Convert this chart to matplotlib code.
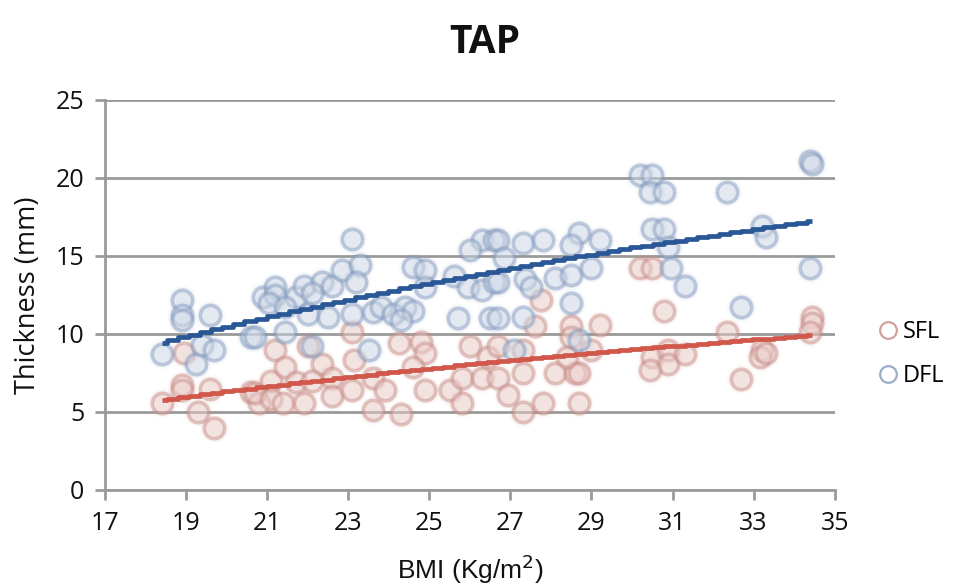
import numpy as np
import matplotlib
matplotlib.use("Agg")
import matplotlib.pyplot as plt
from matplotlib.lines import Line2D

# ---- data -------------------------------------------------------------
dfl_bmi = [18.4, 18.9, 18.9, 18.9, 19.24, 19.4, 19.6, 19.7, 20.6, 20.9,
           23.1, 21.2, 21.2, 21.7, 21.9, 22.35, 22.6, 22.85, 23.3, 23.2,
           21.05, 21.45, 22.0, 22.5, 23.1, 23.6, 20.7, 21.45, 22.1, 23.5,
           22.1, 26.3, 26.0, 26.6, 24.6, 24.9, 24.9, 25.6, 25.95, 26.3,
           26.6, 23.8, 24.1, 24.4, 24.6, 24.3, 25.7, 26.5, 26.7, 27.3,
           27.8, 28.7, 28.5, 29.2, 26.85, 26.7, 27.35, 27.5, 28.1, 28.5,
           29.0, 28.5, 26.7, 27.3, 28.7, 27.1, 30.2, 30.5, 30.45, 30.8,
           32.35, 30.5, 30.8, 30.9, 30.95, 31.3, 34.4, 34.45, 33.2, 33.3,
           34.4, 32.7]
dfl_thick = [8.7, 12.2, 11.2, 10.9, 8.1, 9.3, 11.2, 9.0, 9.8, 12.4,
             16.1, 13.0, 12.5, 12.4, 13.1, 13.3, 13.1, 14.1, 14.4, 13.3,
             12.0, 11.7, 11.3, 11.1, 11.3, 11.4, 9.8, 10.1, 9.2, 9.0,
             12.6, 16.0, 15.4, 16.0, 14.3, 14.1, 13.0, 13.7, 13.0, 12.8,
             13.3, 11.7, 11.3, 11.7, 11.5, 10.9, 11.0, 11.0, 16.0, 15.8,
             16.0, 16.5, 15.7, 16.0, 14.9, 13.3, 13.5, 13.0, 13.6, 13.8,
             14.2, 12.0, 11.0, 11.1, 9.6, 9.0, 20.2, 20.2, 19.1, 19.1,
             19.1, 16.7, 16.7, 15.6, 14.2, 13.1, 21.1, 20.9, 16.9, 16.2,
             14.2, 11.7]

sfl_bmi = [18.4, 18.9, 18.9, 19.6, 19.3, 19.7, 18.95, 20.6, 20.8, 20.7,
           21.1, 21.2, 21.45, 21.1, 21.4, 21.9, 21.7, 22.0, 22.35, 22.6,
           22.6, 23.1, 23.15, 23.1, 23.6, 23.6, 22.1, 23.9, 24.3, 24.25,
           24.8, 24.9, 24.6, 24.9, 25.5, 25.8, 25.8, 26.0, 26.3, 26.45,
           26.7, 26.7, 27.3, 27.6, 27.3, 26.95, 27.3, 27.8, 28.1, 28.5,
           28.5, 28.6, 28.4, 29.0, 29.2, 28.7, 27.75, 28.7, 30.2, 30.5,
           30.8, 30.5, 30.9, 30.9, 31.3, 30.45, 32.35, 33.2, 33.15, 33.3,
           32.7, 34.45, 34.45, 34.4]
sfl_thick = [5.6, 6.7, 6.4, 6.5, 5.0, 4.0, 8.8, 6.3, 5.6, 6.2,
             7.0, 9.0, 7.9, 5.8, 5.6, 5.6, 6.9, 9.2, 8.1, 7.2,
             6.0, 10.1, 8.3, 6.4, 7.2, 5.1, 7.0, 6.4, 4.9, 9.4,
             9.5, 8.8, 7.9, 6.4, 6.4, 7.2, 5.6, 9.2, 7.2, 8.5,
             9.2, 7.2, 9.0, 10.5, 7.5, 6.1, 5.0, 5.6, 7.5, 10.5,
             9.8, 7.5, 8.5, 9.0, 10.6, 5.6, 12.2, 7.5, 14.2, 14.2,
             11.5, 8.5, 9.0, 8.1, 8.7, 7.7, 10.1, 9.0, 8.5, 8.8,
             7.1, 11.1, 10.7, 10.1]

series_names = ["SFL", "DFL"]
x_ticks = list(range(17, 36, 2))
y_ticks = list(range(0, 26, 5))

# ---- style ------------------------------------------------------------
RED_EDGE, RED_FILL, RED_LINE = "#c78a84", "#efd6d3", "#d0574a"
BLUE_EDGE, BLUE_FILL, BLUE_LINE = "#8098bd", "#d7dfeb", "#2a5796"
GRID = "#9a9a9a"

fig = plt.figure(figsize=(9.69, 5.88), dpi=100)
ax = fig.add_axes([0.1084, 0.1667, 0.7530, 0.6633])


def draw_points(x, y, edge, fill):
    # soft halo rings under each marker, then the ringed marker itself
    ax.scatter(x, y, s=430, color=edge, alpha=0.06, linewidths=0, zorder=3)
    ax.scatter(x, y, s=320, color=edge, alpha=0.08, linewidths=0, zorder=3)
    ax.scatter(x, y, s=215, facecolor=fill, edgecolor=edge, linewidths=2.6,
               alpha=0.45, zorder=3)


def draw_trend(x, y, color):
    # logarithmic trend line fitted to the points
    x = np.asarray(x, float)
    y = np.asarray(y, float)
    b, a = np.polyfit(np.log(x), y, 1)
    xs = np.linspace(x.min(), x.max(), 60)
    ax.plot(xs, a + b * np.log(xs), color=color, lw=3.4,
            drawstyle="steps-mid", solid_capstyle="butt", zorder=4)


draw_points(sfl_bmi, sfl_thick, RED_EDGE, RED_FILL)
draw_points(dfl_bmi, dfl_thick, BLUE_EDGE, BLUE_FILL)
draw_trend(sfl_bmi, sfl_thick, RED_LINE)
draw_trend(dfl_bmi, dfl_thick, BLUE_LINE)

ax.set_xlim(17, 35)
ax.set_ylim(0, 25)
ax.set_xticks(x_ticks)
ax.set_yticks(y_ticks)
ax.yaxis.grid(True, color=GRID, lw=2)
ax.set_axisbelow(True)
for side in ("top", "right"):
    ax.spines[side].set_visible(False)
for side in ("left", "bottom"):
    ax.spines[side].set_color(GRID)
    ax.spines[side].set_linewidth(2)
ax.tick_params(axis="both", colors=GRID, width=2, length=7, direction="out",
               labelcolor="#111111", labelsize=18, pad=8)
for lab in ax.get_xticklabels() + ax.get_yticklabels():
    lab.set_fontfamily("Open Sans")

ax.set_ylabel("Thickness (mm)", fontsize=19.5, family="Open Sans",
              color="#111111", labelpad=10)
ax.set_xlabel("BMI (Kg/m$^{2}$)", fontsize=19, family="Liberation Sans",
              color="#111111", labelpad=12)

fig.text(0.5, 0.928, "TAP", ha="center", va="center", fontsize=28,
         fontweight="bold", family="Open Sans", color="#111111")

handles = [
    Line2D([], [], ls="none", marker="o", markersize=12, markerfacecolor="none",
           markeredgecolor=RED_EDGE, markeredgewidth=1.6, alpha=0.8),
    Line2D([], [], ls="none", marker="o", markersize=12, markerfacecolor="none",
           markeredgecolor=BLUE_EDGE, markeredgewidth=1.6, alpha=0.8),
]
leg = fig.legend(handles, series_names, loc="center left",
                 bbox_to_anchor=(0.882, 0.398), frameon=False,
                 prop={"family": "Open Sans", "size": 17},
                 handletextpad=0.15, labelspacing=0.85, handlelength=1.0)

fig.savefig("out.png", dpi=100, facecolor="white")
